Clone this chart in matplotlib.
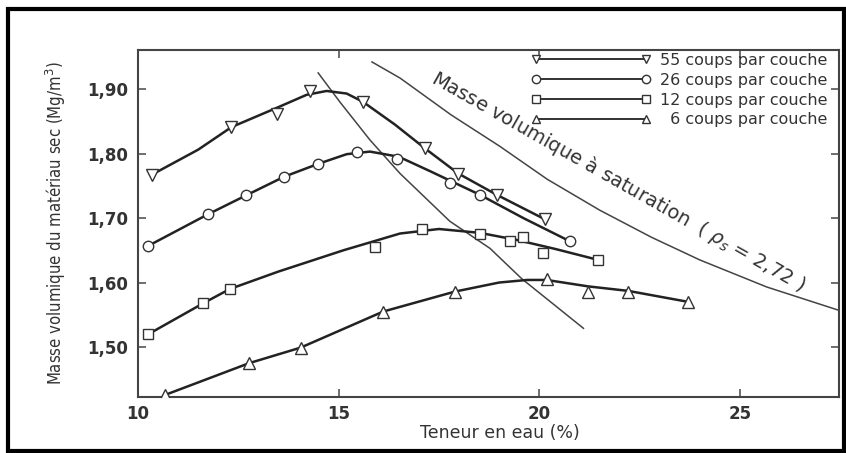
import matplotlib
matplotlib.use("Agg")
import matplotlib.pyplot as plt
from matplotlib.patches import Rectangle
from matplotlib.lines import Line2D

# ---------------- data ----------------
# measured points
w55 = [10.34, 12.33, 13.46, 14.29, 15.61, 17.15, 17.98, 18.94, 20.14]
d55 = [1.767, 1.841, 1.862, 1.897, 1.880, 1.808, 1.769, 1.736, 1.698]
w26 = [10.26, 11.75, 12.69, 13.64, 14.49, 15.45, 16.45, 17.77, 18.52, 20.76]
d26 = [1.657, 1.706, 1.735, 1.764, 1.784, 1.803, 1.791, 1.755, 1.736, 1.664]
w12 = [10.26, 11.63, 12.29, 15.91, 17.07, 18.52, 19.27, 19.59, 20.10, 21.47]
d12 = [1.520, 1.568, 1.590, 1.655, 1.683, 1.676, 1.664, 1.671, 1.646, 1.635]
w6 = [10.67, 12.77, 14.05, 16.11, 17.90, 20.18, 21.22, 22.22, 23.71]
d6 = [1.4256, 1.475, 1.499, 1.555, 1.586, 1.605, 1.585, 1.585, 1.570]

# fitted curves
cw55 = [10.34, 11.5, 12.33, 13.5, 14.2, 14.7, 15.2, 15.61, 16.4, 17.15, 17.98, 18.94, 20.14]
cd55 = [1.767, 1.806, 1.841, 1.872, 1.891, 1.897, 1.893, 1.880, 1.845, 1.808, 1.769, 1.736, 1.698]
cw26 = [10.26, 11.75, 12.69, 13.64, 14.49, 15.2, 15.78, 16.5, 17.3, 18.52, 19.6, 20.76]
cd26 = [1.657, 1.706, 1.735, 1.764, 1.784, 1.799, 1.803, 1.795, 1.772, 1.736, 1.700, 1.664]
cw12 = [10.26, 11.63, 12.29, 13.5, 15.12, 16.53, 17.5, 18.52, 19.44, 20.4, 21.47]
cd12 = [1.520, 1.568, 1.590, 1.617, 1.650, 1.676, 1.683, 1.677, 1.666, 1.652, 1.635]
cw6 = [10.67, 12.77, 14.05, 16.11, 17.9, 19.0, 19.7, 20.18, 21.22, 22.22, 23.71]
cd6 = [1.4256, 1.475, 1.499, 1.555, 1.586, 1.600, 1.604, 1.604, 1.594, 1.587, 1.570]

# line of optimums
opt_w = [14.49, 15.03, 15.78, 16.53, 17.77, 18.77, 19.56, 21.10]
opt_d = [1.925, 1.880, 1.821, 1.769, 1.695, 1.653, 1.606, 1.529]

# saturation curve
sat_w = [15.83, 16.53, 17.8, 19.02, 20.2, 21.51, 22.8, 24.0, 25.67, 27.46]
sat_d = [1.942, 1.917, 1.860, 1.811, 1.760, 1.712, 1.670, 1.635, 1.593, 1.557]

series_labels = ["55 coups par couche", "26 coups par couche",
                 "12 coups par couche", "\u20076 coups par couche"]

xticks = [10, 15, 20, 25]
xtick_labels = ["10", "15", "20", "25"]
yticks = [1.50, 1.60, 1.70, 1.80, 1.90]
ytick_labels = ["1,50", "1,60", "1,70", "1,80", "1,90"]

# ---------------- figure ----------------
fig = plt.figure(figsize=(8.46, 4.53), dpi=100)
ax = fig.add_axes([0.1631, 0.1236, 0.8283, 0.7660])

ink = "#222222"
thin = "#444444"

ax.plot(cw55, cd55, color=ink, lw=1.8, zorder=3)
ax.plot(cw26, cd26, color=ink, lw=1.8, zorder=3)
ax.plot(cw12, cd12, color=ink, lw=1.8, zorder=3)
ax.plot(cw6, cd6, color=ink, lw=1.8, zorder=3)

mk = dict(linestyle="none", markersize=8, markerfacecolor="white",
          markeredgecolor="#333333", markeredgewidth=1.0, zorder=4)
ax.plot(w55, d55, marker="v", **mk)
ax.plot(w26, d26, marker="o", **{**mk, "markersize": 7.5})
ax.plot(w12, d12, marker="s", **{**mk, "markersize": 7.5})
ax.plot(w6, d6, marker="^", **mk)

ax.plot(opt_w, opt_d, color=thin, lw=1.1, zorder=2)
ax.plot(sat_w, sat_d, color=thin, lw=1.1, zorder=2)

ax.text(21.98, 1.757, r"Masse volumique à saturation  ( $\rho_s$ = 2,72 )",
        rotation=-29.5, rotation_mode="anchor", ha="center", va="center",
        fontsize=14, color="#333333")

ax.set_xlim(10, 27.46)
ax.set_ylim(1.4225, 1.9605)
ax.set_xticks(xticks)
ax.set_xticklabels(xtick_labels)
ax.set_yticks(yticks)
ax.set_yticklabels(ytick_labels)
ax.tick_params(direction="in", length=6, width=1.2, color="#555555",
               top=True, right=True, labelsize=12, labelcolor="#333333")
ax.tick_params(axis="x", pad=6)
ax.tick_params(axis="y", pad=7)
for lab in ax.get_xticklabels() + ax.get_yticklabels():
    lab.set_fontweight("bold")
for s in ax.spines.values():
    s.set_linewidth(1.5)
    s.set_color("#444444")

ax.set_xlabel("Teneur en eau (%)", fontsize=12.5, color="#333333")
ax.xaxis.set_label_coords(0.517, -0.077)
ax.set_ylabel("Masse volumique du matériau sec (Mg/m$^3$)", fontsize=12,
              color="#333333", labelpad=14, fontstretch="condensed")

handles = [
    Line2D([], [], color=ink, lw=1.3, marker=m, markersize=6,
           markerfacecolor="white", markeredgecolor="#333333")
    for m in ["v", "o", "s", "^"]
]
leg = ax.legend(handles, series_labels, loc="upper right",
                bbox_to_anchor=(828 / 846, 1 - 53 / 453),
                bbox_transform=fig.transFigure, frameon=False, numpoints=2,
                handlelength=7.5, handletextpad=0.6, labelspacing=0.3,
                fontsize=11.5, borderpad=0, borderaxespad=0)
for t in leg.get_texts():
    t.set_color("#333333")

fig.patches.append(Rectangle((8 / 846, 1 - 451 / 453), 835.5 / 846, 442 / 453,
                             transform=fig.transFigure, fill=False,
                             edgecolor="black", linewidth=3.0))

fig.savefig("out.png", dpi=100)
